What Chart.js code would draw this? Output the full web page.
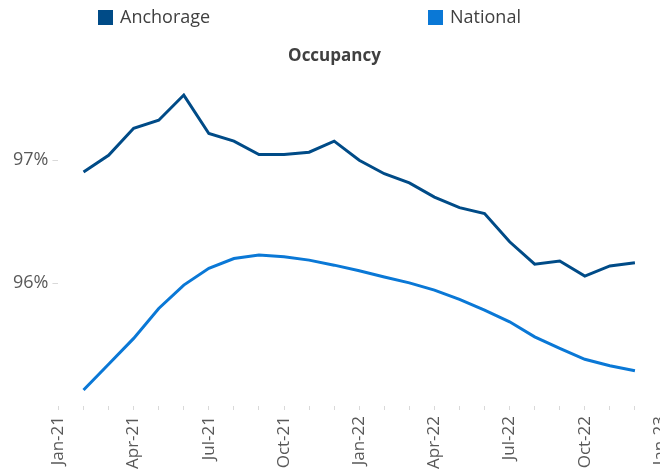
<!DOCTYPE html>
<html>
<head>
<meta charset="utf-8">
<script src="https://cdn.jsdelivr.net/npm/chart.js@4/dist/chart.umd.min.js"></script>
<style>
  html, body { margin: 0; padding: 0; background: #fff; overflow: hidden; }
  #wrap { width: 660px; height: 473px; position: relative; }
</style>
</head>
<body>
<div id="wrap"><canvas id="myChart"></canvas></div>
<script>
const months = ["Jan-21", "Feb-21", "Mar-21", "Apr-21", "May-21", "Jun-21", "Jul-21", "Aug-21", "Sep-21", "Oct-21", "Nov-21", "Dec-21",
  "Jan-22", "Feb-22", "Mar-22", "Apr-22", "May-22", "Jun-22", "Jul-22", "Aug-22", "Sep-22", "Oct-22", "Nov-22", "Dec-22", "Jan-23"];

const anchorage = [null, 96.905, 97.04, 97.26, 97.325, 97.53, 97.217, 97.155, 97.046, 97.046, 97.065, 97.155,
  97.0, 96.89, 96.815, 96.70, 96.614, 96.566, 96.336, 96.154, 96.18, 96.057, 96.14, 96.165, null];

const national = [null, 95.13, 95.34, 95.55, 95.794, 95.984, 96.12, 96.20, 96.228, 96.214, 96.187, 96.146,
  96.10, 96.05, 96.002, 95.943, 95.867, 95.78, 95.685, 95.563, 95.469, 95.38, 95.327, 95.287, null];

const yTicks = [96, 97];
const seriesNames = ["Anchorage", "National"];
const seriesColors = ["#004B87", "#0A78D6"];

const font = "'Open Sans', 'Noto Sans', sans-serif";
const labelGray = "#595959";

// legend drawn by hand so the two items sit far apart like the original
const spreadLegend = {
  id: "spreadLegend",
  afterDraw(chart) {
    const ctx = chart.ctx;
    const xs = [98, 428];
    ctx.save();
    ctx.font = "18px " + font;
    ctx.textBaseline = "middle";
    ctx.textAlign = "left";
    chart.data.datasets.forEach(function (ds, i) {
      ctx.fillStyle = ds.borderColor;
      ctx.fillRect(xs[i], 10, 15, 15);
      ctx.fillStyle = "#404040";
      ctx.fillText(ds.label, xs[i] + 22, 18);
    });
    ctx.restore();
  }
};

let ctx = document.getElementById("myChart").getContext("2d");
let myChart = new Chart(ctx, {
  type: "line",
  data: {
    labels: months,
    datasets: [
      {
        label: seriesNames[0],
        data: anchorage,
        borderColor: seriesColors[0],
        backgroundColor: seriesColors[0],
        borderWidth: 3,
        pointRadius: 0,
        tension: 0,
      },
      {
        label: seriesNames[1],
        data: national,
        borderColor: seriesColors[1],
        backgroundColor: seriesColors[1],
        borderWidth: 3,
        pointRadius: 0,
        tension: 0,
      },
    ],
  },
  options: {
    responsive: true,
    maintainAspectRatio: false,
    animation: false,
    layout: { padding: { left: 9, right: 0, top: 0, bottom: 0 } },
    plugins: {
      legend: { display: false },
      tooltip: { enabled: false },
      title: {
        display: true,
        text: "Occupancy",
        color: "#404040",
        font: { family: font, size: 17, weight: "bold" },
        padding: { top: 46, bottom: 9 },
      },
    },
    scales: {
      x: {
        offset: false,
        border: { display: false },
        grid: { drawOnChartArea: false, tickLength: 4, color: "#d9d9d9" },
        ticks: {
          autoSkip: false,
          maxRotation: 90,
          minRotation: 90,
          padding: 6,
          color: labelGray,
          font: { family: font, size: 17 },
          callback: function (val, idx) {
            return idx % 3 === 0 ? months[idx] : "";
          },
        },
        afterFit: function (scale) {
          scale.paddingRight = 0;
          scale.height = 67;
        },
      },
      y: {
        min: 95,
        max: 97.69,
        border: { display: false },
        grid: { drawOnChartArea: false, tickLength: 6, color: "#d9d9d9" },
        afterBuildTicks: function (scale) {
          scale.ticks = yTicks.map((v) => ({ value: v }));
        },
        ticks: {
          padding: 4,
          color: labelGray,
          font: { family: font, size: 18 },
          callback: function (val) {
            return val + "%";
          },
        },
      },
    },
  },
  plugins: [spreadLegend],
});
</script>
</body>
</html>
